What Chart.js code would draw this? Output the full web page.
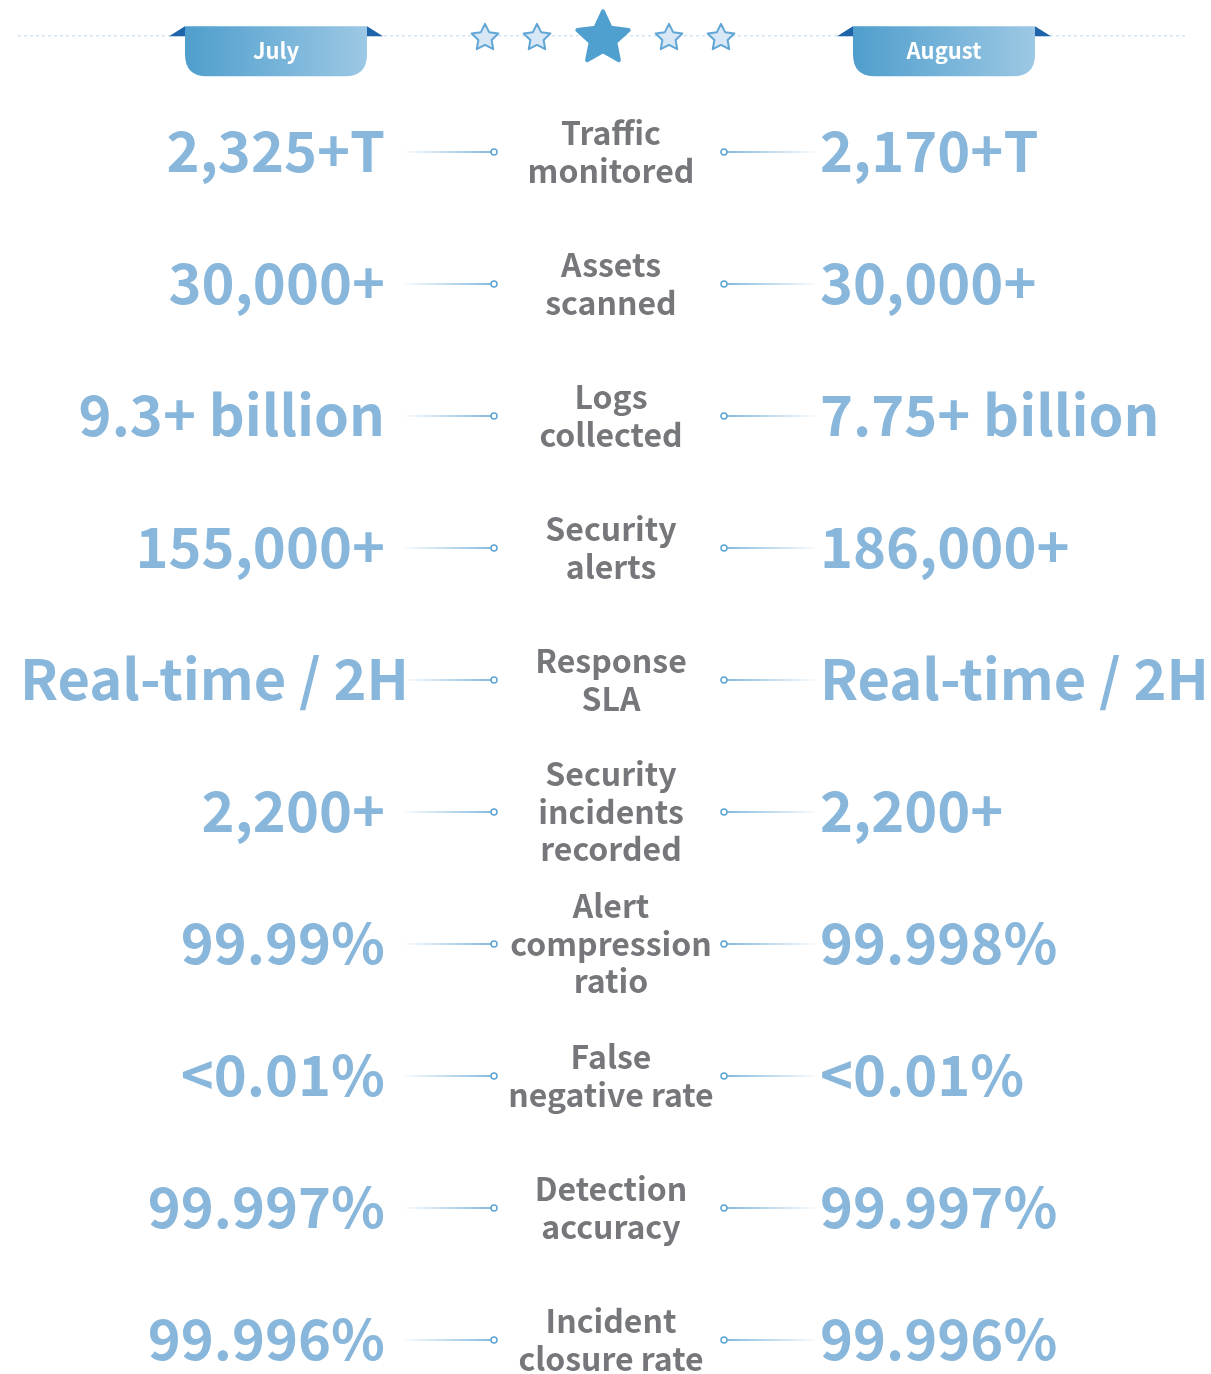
<!DOCTYPE html>
<html>
<head>
<meta charset="utf-8">
<script src="https://cdn.jsdelivr.net/npm/chart.js@4.4.1/dist/chart.umd.min.js"></script>
<style>
  html, body { margin: 0; padding: 0; background: #ffffff; overflow: hidden; }
  #wrap { width: 1211px; height: 1374px; }
  canvas { display: block; }
</style>
</head>
<body>
<div id="wrap"><canvas id="board" width="1211" height="1374"></canvas></div>
<script>
// periods shown in the two ribbons
const periods = ["July", "August"];
// metric names (one entry per row, split into lines)
const metrics = [
  ["Traffic", "monitored"],
  ["Assets", "scanned"],
  ["Logs", "collected"],
  ["Security", "alerts"],
  ["Response", "SLA"],
  ["Security", "incidents", "recorded"],
  ["Alert", "compression", "ratio"],
  ["False", "negative rate"],
  ["Detection", "accuracy"],
  ["Incident", "closure rate"]
];
// July values
const julyValues = ["2,325+T", "30,000+", "9.3+ billion", "155,000+", "Real-time / 2H",
  "2,200+", "99.99%", "<0.01%", "99.997%", "99.996%"];
// August values
const augustValues = ["2,170+T", "30,000+", "7.75+ billion", "186,000+", "Real-time / 2H",
  "2,200+", "99.998%", "<0.01%", "99.997%", "99.996%"];

const FONT = "'Noto Sans CJK SC', 'Source Sans Pro', 'Noto Sans', sans-serif";
const valueColor = "#89b7db";
const labelColor = "#76777b";
const lineBlue = "#5ea4d4";

// column positions on the x axis
const colJuly = 385, colLabel = 611, colAug = 820, minLeft = 20;
const lineL = [405, 491], lineR = [727, 815];
const dotL = 494, dotR = 724;

const rows = metrics.map((_, i) => i);
const leftLines = [], rightLines = [];
rows.forEach(i => {
  leftLines.push({ x: lineL[0], y: i }, { x: lineL[1], y: i }, { x: lineL[1], y: null });
  rightLines.push({ x: lineR[0], y: i }, { x: lineR[1], y: i }, { x: lineR[1], y: null });
});

function fade(ctx, x0, x1, c0, c1) {
  const chart = ctx.chart;
  const xs = chart.scales.x;
  if (!xs || !chart.chartArea) return c1;
  const p0 = xs.getPixelForValue(x0), p1 = xs.getPixelForValue(x1);
  if (!isFinite(p0) || !isFinite(p1)) return c1;
  const g = chart.ctx.createLinearGradient(p0, 0, p1, 0);
  g.addColorStop(0, c0);
  g.addColorStop(1, c1);
  return g;
}

function starPath(ctx, cx, cy, R, r) {
  ctx.beginPath();
  for (let k = 0; k < 10; k++) {
    const a = -Math.PI / 2 + k * Math.PI / 5;
    const rr = k % 2 === 0 ? R : r;
    const px = cx + rr * Math.cos(a), py = cy + rr * Math.sin(a);
    if (k === 0) ctx.moveTo(px, py); else ctx.lineTo(px, py);
  }
  ctx.closePath();
}

function ribbon(ctx, cx, top, label) {
  const w = 182, h = 50, rad = 22, ear = 16, earH = 10;
  const x0 = cx - w / 2, x1 = cx + w / 2;
  // folded ears
  ctx.fillStyle = "#1f63a8";
  ctx.beginPath();
  ctx.moveTo(x0, top); ctx.lineTo(x0, top + earH); ctx.lineTo(x0 - ear, top + earH); ctx.closePath(); ctx.fill();
  ctx.beginPath();
  ctx.moveTo(x1, top); ctx.lineTo(x1, top + earH); ctx.lineTo(x1 + ear, top + earH); ctx.closePath(); ctx.fill();
  // body
  const g = ctx.createLinearGradient(x0, 0, x1, 0);
  g.addColorStop(0, "#4f9ecd");
  g.addColorStop(1, "#9cc8e4");
  ctx.fillStyle = g;
  ctx.beginPath();
  ctx.moveTo(x0, top);
  ctx.lineTo(x1, top);
  ctx.lineTo(x1, top + h - rad);
  ctx.quadraticCurveTo(x1, top + h, x1 - rad, top + h);
  ctx.lineTo(x0 + rad, top + h);
  ctx.quadraticCurveTo(x0, top + h, x0, top + h - rad);
  ctx.closePath();
  ctx.fill();
  ctx.fillStyle = "#ffffff";
  ctx.font = "bold 22px " + FONT;
  ctx.textAlign = "center";
  ctx.textBaseline = "alphabetic";
  ctx.fillText(label, cx, top + 33);
}

const boardPlugin = {
  id: "board",
  beforeDatasetsDraw(chart) {
    const ctx = chart.ctx;
    const xs = chart.scales.x, ys = chart.scales.y;
    const headY = ys.getPixelForValue(-0.88);
    ctx.save();
    // dashed guide
    ctx.strokeStyle = "#bcd7ea";
    ctx.lineWidth = 1;
    ctx.setLineDash([3, 3]);
    ctx.beginPath();
    ctx.moveTo(xs.getPixelForValue(18), headY);
    ctx.lineTo(xs.getPixelForValue(1187), headY);
    ctx.stroke();
    ctx.setLineDash([]);
    // ribbons
    ribbon(ctx, xs.getPixelForValue(276), headY - 9.5, periods[0]);
    ribbon(ctx, xs.getPixelForValue(944), headY - 9.5, periods[1]);
    // stars
    ctx.lineJoin = "round";
    [485, 537, 669, 721].forEach(sx => {
      starPath(ctx, xs.getPixelForValue(sx), headY + 2, 14, 7);
      ctx.fillStyle = "#d7e7f5";
      ctx.fill();
      ctx.strokeStyle = "#62a6d6";
      ctx.lineWidth = 2;
      ctx.stroke();
    });
    starPath(ctx, xs.getPixelForValue(603), headY + 2.5, 27, 13);
    ctx.fillStyle = "#50a0cf";
    ctx.strokeStyle = "#50a0cf";
    ctx.lineWidth = 4;
    ctx.fill();
    ctx.stroke();
    ctx.restore();
  },
  afterDatasetsDraw(chart) {
    const ctx = chart.ctx;
    const xs = chart.scales.x, ys = chart.scales.y;
    ctx.save();
    ctx.textBaseline = "alphabetic";
    rows.forEach(i => {
      const y = ys.getPixelForValue(i);
      ctx.font = "bold 56px " + FONT;
      ctx.fillStyle = valueColor;
      ctx.textAlign = "left";
      const w = ctx.measureText(julyValues[i]).width;
      const left = Math.max(xs.getPixelForValue(minLeft), xs.getPixelForValue(colJuly) - w);
      ctx.fillText(julyValues[i], left, y + 20);
      ctx.fillText(augustValues[i], xs.getPixelForValue(colAug), y + 20);
      const lines = metrics[i];
      const lh = 37.5;
      ctx.font = "bold 32px " + FONT;
      ctx.fillStyle = labelColor;
      ctx.textAlign = "center";
      lines.forEach((t, k) => {
        ctx.fillText(t, xs.getPixelForValue(colLabel), y + (k - (lines.length - 1) / 2) * lh + 12);
      });
    });
    ctx.restore();
  }
};

new Chart(document.getElementById("board"), {
  type: "scatter",
  plugins: [boardPlugin],
  data: {
    datasets: [
      {
        type: "line",
        data: leftLines,
        spanGaps: false,
        pointRadius: 0,
        borderWidth: 1.6,
        borderColor: (c) => fade(c, lineL[0], lineL[1], "rgba(94,164,212,0.05)", lineBlue)
      },
      {
        type: "line",
        data: rightLines,
        spanGaps: false,
        pointRadius: 0,
        borderWidth: 1.6,
        borderColor: (c) => fade(c, lineR[0], lineR[1], lineBlue, "rgba(94,164,212,0.05)")
      },
      {
        data: rows.flatMap(i => [{ x: dotL, y: i }, { x: dotR, y: i }]),
        pointRadius: 3,
        pointBorderWidth: 1.5,
        pointBackgroundColor: "#ffffff",
        pointBorderColor: lineBlue
      }
    ]
  },
  options: {
    responsive: false,
    animation: false,
    events: [],
    layout: { padding: 0, autoPadding: false },
    plugins: { legend: { display: false }, tooltip: { enabled: false } },
    scales: {
      x: { type: "linear", min: 0, max: 1211, display: false },
      y: { type: "linear", reverse: true, min: -1.1515, max: 9.258, display: false }
    }
  }
});
</script>
</body>
</html>
